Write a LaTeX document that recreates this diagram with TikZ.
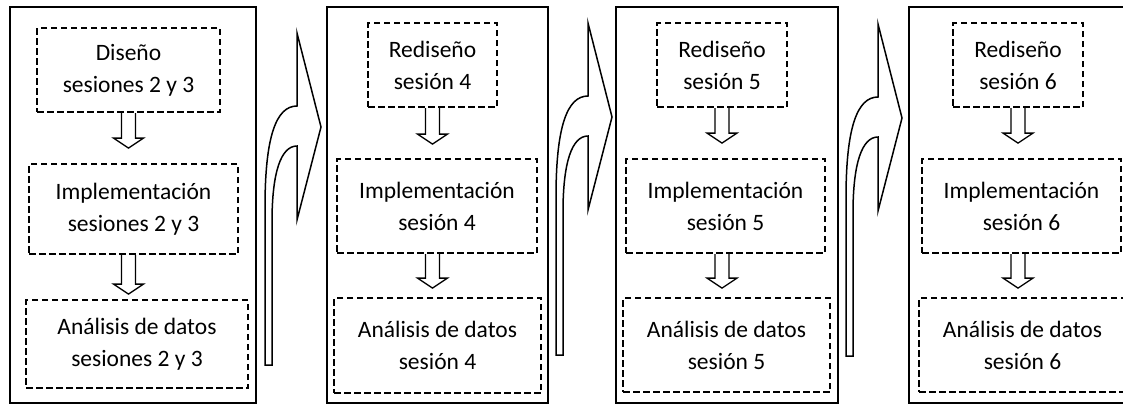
\documentclass[tikz,border=0pt]{standalone}
\usepackage{fontspec}
\setmainfont{Carlito}
\usetikzlibrary{calc}
\tikzset{
  panel/.style={draw=black, line width=2pt},
  stagebox/.style={draw=black, line width=2.2pt, dash pattern=on 6.5pt off 3.5pt,
    inner sep=0pt, align=center, font=\fontsize{23.5}{32}\selectfont},
  blk/.style={draw=black, line width=1.3pt, line join=miter},
  curvestyle/.style={draw=black, line width=1.5pt, line join=miter},
  curvyarrow/.pic={
    \draw[curvestyle] (0,0) -- (-24,93) -- (-24,19)
      .. controls (-40,19) and (-49,45) .. (-49,95) -- (-49,238) -- (-56,238)
      -- (-56,80) .. controls (-56,10) and (-45,-21) .. (-24,-21) -- (-24,-94) -- cycle;
  }
}
\newcommand{\blockdown}[2]{%
  \draw[blk] (#1) ++(-7,0) -- ++(0,#2-10) -- ++(-8,0) -- ++(15,10) -- ++(15,-10) -- ++(-8,0) -- ++(0,-#2+10);}
\begin{document}
\begin{tikzpicture}[x=1pt,y=-1pt]
\useasboundingbox (0,0) rectangle (1123,405);
\clip (0,0) rectangle (1123,405);
\fill[white] (0,0) rectangle (1123,405);
% panels
\draw[panel] (10,7) rectangle (256,403);
\draw[panel] (327,7) rectangle (548,403);
\draw[panel] (616,7) rectangle (838,403);
\draw[panel] (909,7) rectangle (1140,403);
% panel 1
\node[stagebox, minimum width=183pt, minimum height=84pt] (d1) at (128.5,70) {Diseño\\sesiones 2 y 3};
\node[stagebox, minimum width=209pt, minimum height=90pt] (i1) at (133.5,209) {Implementación\\sesiones 2 y 3};
\node[stagebox, minimum width=222pt, minimum height=88pt] (a1) at (137,344) {Análisis de datos\\sesiones 2 y 3};
% panel 2
\node[stagebox, minimum width=129pt, minimum height=84pt] (r2) at (432.5,65) {Rediseño\\sesión 4};
\node[stagebox, minimum width=200pt, minimum height=94pt] (i2) at (437,206) {Implementación\\sesión 4};
\node[stagebox, minimum width=207pt, minimum height=95pt] (a2) at (437.5,345.5) {Análisis de datos\\sesión 4};
% panel 3
\node[stagebox, minimum width=130pt, minimum height=84pt] (r3) at (722,65) {Rediseño\\sesión 5};
\node[stagebox, minimum width=199pt, minimum height=94pt] (i3) at (725.5,206) {Implementación\\sesión 5};
\node[stagebox, minimum width=207pt, minimum height=94pt] (a3) at (726.5,345) {Análisis de datos\\sesión 5};
% panel 4
\node[stagebox, minimum width=130pt, minimum height=84pt] (r4) at (1018,65) {Rediseño\\sesión 6};
\node[stagebox, minimum width=199pt, minimum height=94pt] (i4) at (1021.5,206) {Implementación\\sesión 6};
\node[stagebox, minimum width=207pt, minimum height=94pt] (a4) at (1022.5,345) {Análisis de datos\\sesión 6};
% block arrows
\blockdown{d1.south}{35}
\blockdown{d1.south |- i1.south}{39}
\blockdown{r2.south}{36}
\blockdown{r2.south |- i2.south}{34}
\blockdown{r3.south}{35}
\blockdown{r3.south |- i3.south}{34}
\blockdown{r4.south}{35}
\blockdown{r4.south |- i4.south}{34}
% curvy arrows between panels
\coordinate (c1) at (321,127);
\coordinate (c2) at (612,117);
\coordinate (c3) at (902,118);
\pic at (c1) {curvyarrow};
\pic at (c2) {curvyarrow};
\pic at (c3) {curvyarrow};
\end{tikzpicture}
\end{document}
